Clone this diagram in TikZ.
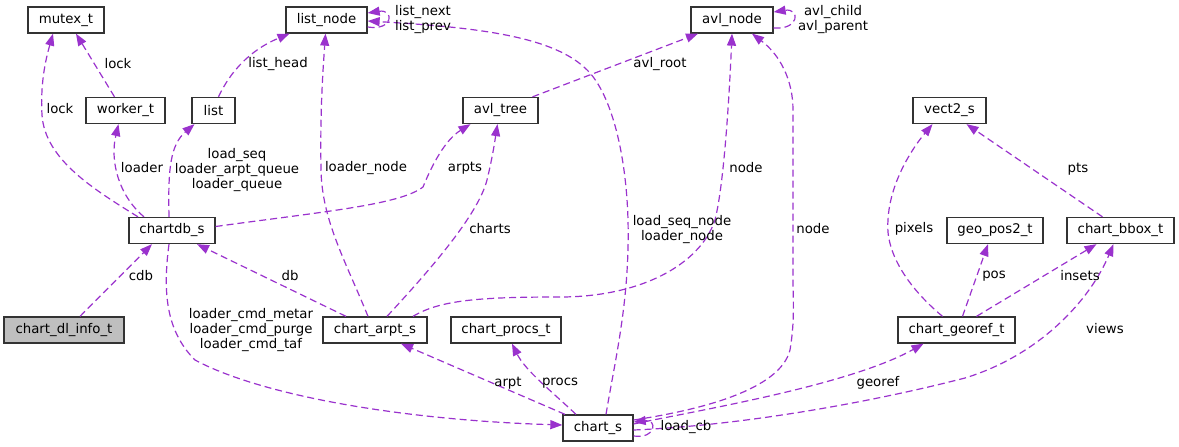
\documentclass[tikz,border=0pt]{standalone}
\usepackage{fontspec}
\setmainfont{DejaVu Sans}
\usetikzlibrary{arrows.meta}
\definecolor{edgec}{HTML}{9A32CD}
\definecolor{boxc}{HTML}{333333}
\definecolor{grayfill}{HTML}{BFBFBF}
\begin{document}
\begin{tikzpicture}[x=1pt,y=-1pt,
  every node/.style={font=\fontsize{13.3}{15}\selectfont},
  cls/.style={draw=boxc, line width=1.3pt, fill=white, minimum height=26pt, inner sep=0pt, anchor=center},
  rel/.style={draw=edgec, line width=1.2pt, dash pattern=on 7pt off 4pt, -{Triangle[length=12pt,width=9pt]}},
  lbl/.style={inner sep=0pt, align=center, text=black}]
\useasboundingbox (0,0) rectangle (1179,447);
% classes
\node[cls, minimum width=76pt] (mutex) at (66,20) {mutex\_t};
\node[cls, minimum width=81pt] (listnode) at (326.5,20) {list\_node};
\node[cls, minimum width=82pt] (avlnode) at (732,20) {avl\_node};
\node[cls, minimum width=79pt] (worker) at (125.5,110.5) {worker\_t};
\node[cls, minimum width=43pt] (list) at (213.5,110.5) {list};
\node[cls, minimum width=75pt] (avltree) at (500.5,110.5) {avl\_tree};
\node[cls, minimum width=73pt] (vect) at (949.5,110.5) {vect2\_s};
\node[cls, minimum width=86pt] (chartdb) at (172,230.5) {chartdb\_s};
\node[cls, minimum width=96pt] (geopos) at (995,230.5) {geo\_pos2\_t};
\node[cls, minimum width=107pt] (bbox) at (1120.5,230.5) {chart\_bbox\_t};
\node[cls, minimum width=120pt, fill=grayfill] (dlinfo) at (64,330) {chart\_dl\_info\_t};
\node[cls, minimum width=104pt] (arpt) at (375,330) {chart\_arpt\_s};
\node[cls, minimum width=110pt] (procs) at (506,330) {chart\_procs\_t};
\node[cls, minimum width=117pt] (georef) at (956.5,330) {chart\_georef\_t};
\node[cls, minimum width=70pt] (charts) at (598,428) {chart\_s};
% relations
\draw[rel] ([xshift=-34pt]chartdb.north) .. controls (95,190) and (45,160) .. (42,115) .. controls (40,80) and (47,55) .. ([xshift=-13pt]mutex.south);
\draw[rel] ([xshift=-28pt]chartdb.north) .. controls (118,195) and (110,160) .. ([xshift=-7pt]worker.south);
\draw[rel] ([xshift=-11pt]worker.north) -- ([xshift=10pt]mutex.south);
\draw[rel] ([xshift=-3pt]chartdb.north) .. controls (168,170) and (170,145) .. ([xshift=-19pt]list.south);
\draw[rel] ([xshift=5pt]list.north) .. controls (230,72) and (250,50) .. ([xshift=-37pt]listnode.south);
\draw[rel] ([yshift=-7pt]listnode.east) .. controls (394,31) and (394,9) .. ([yshift=7pt]listnode.east);
\draw[rel] ([xshift=8pt]charts.north) .. controls (615,360) and (630,300) .. (628,220) .. controls (626,150) and (610,90) .. (585,68) .. controls (550,35) and (470,27) .. ([yshift=-1pt]listnode.east);
\draw[rel] ([xshift=-7pt]arpt.north) .. controls (345,260) and (322,220) .. (321,170) .. controls (320,110) and (323,70) .. ([xshift=-1pt]listnode.south);
\draw[rel] ([yshift=4pt]chartdb.east) .. controls (320,212) and (400,205) .. (423,187) .. controls (432,165) and (445,140) .. ([xshift=-30pt]avltree.south);
\draw[rel] ([xshift=12pt]arpt.north) .. controls (430,270) and (478,215) .. (487,180) .. controls (493,155) and (495,140) .. ([xshift=-3pt]avltree.south);
\draw[rel] ([xshift=32pt]avltree.north) -- ([xshift=-34pt]avlnode.south);
\draw[rel] ([yshift=-8pt]avlnode.east) .. controls (800,30) and (800,8) .. ([yshift=8pt]avlnode.east);
\draw[rel] ([xshift=38pt]arpt.north) .. controls (440,300) and (480,297) .. (560,297) .. controls (640,297) and (700,265) .. (715,220) .. controls (725,180) and (730,80) .. (avlnode.south);
\draw[rel] ([yshift=8pt]charts.east) .. controls (700,410) and (780,390) .. (790,350) .. controls (795,320) and (793,300) .. (793,280) -- (793,110) .. controls (793,80) and (780,55) .. ([xshift=20pt]avlnode.south);
\draw[rel] ([xshift=-3pt]chartdb.south) .. controls (163,290) and (165,330) .. (195,360) .. controls (260,395) and (400,420) .. ([yshift=3pt]charts.west);
\draw[rel] ([xshift=-29pt]arpt.north) -- ([xshift=25pt]chartdb.south);
\draw[rel] ([xshift=16pt]dlinfo.north) -- ([xshift=-20pt]chartdb.south);
\draw[rel] ([xshift=-33pt]charts.north) -- ([xshift=26pt]arpt.south);
\draw[rel] ([xshift=-22pt]charts.north) .. controls (550,390) and (525,370) .. ([xshift=6pt]procs.south);
\draw[rel] ([yshift=-8pt]charts.east) .. controls (657,439) and (657,419) .. ([yshift=6pt]charts.east);
\draw[rel] ([yshift=4pt]charts.east) .. controls (700,410) and (850,385) .. ([xshift=-33pt]georef.south);
\draw[rel] ([yshift=-2pt]charts.east) .. controls (750,425) and (880,400) .. (965,378) .. controls (1040,355) and (1090,300) .. ([xshift=-7pt]bbox.south);
\draw[rel] ([xshift=-14pt]georef.north) .. controls (905,285) and (885,250) .. (888,220) .. controls (890,180) and (915,145) .. ([xshift=-17pt]vect.south);
\draw[rel] ([xshift=6pt]georef.north) -- ([xshift=-7pt]geopos.south);
\draw[rel] ([xshift=20pt]georef.north) -- ([xshift=-24pt]bbox.south);
\draw[rel] ([xshift=-18pt]bbox.north) -- ([xshift=17pt]vect.south);
% labels
\node[lbl] (l1) at (60,109) {lock};
\node[lbl] (l2) at (118,64) {lock};
\node[lbl] (l3) at (142,168) {loader};
\node[lbl] (l4) at (278,64) {list\_head};
\node[lbl] (l5) at (237,170) {load\_seq\\loader\_arpt\_queue\\loader\_queue};
\node[lbl] (l6) at (366,168) {loader\_node};
\node[lbl] (l7) at (423,20) {list\_next\\list\_prev};
\node[lbl] (l8) at (660,64) {avl\_root};
\node[lbl] (l9) at (465,168) {arpts};
\node[lbl] (l10) at (833,20) {avl\_child\\avl\_parent};
\node[lbl] (l11) at (746,168) {node};
\node[lbl] (l12) at (490,229) {charts};
\node[lbl] (l13) at (682,230) {load\_seq\_node\\loader\_node};
\node[lbl] (l14) at (813,229) {node};
\node[lbl] (l15) at (914,229) {pixels};
\node[lbl] (l16) at (994,276) {pos};
\node[lbl] (l17) at (1080,276) {insets};
\node[lbl] (l18) at (1078,169) {pts};
\node[lbl] (l19) at (1105,329) {views};
\node[lbl] (l20) at (878,383) {georef};
\node[lbl] (l21) at (141,276) {cdb};
\node[lbl] (l22) at (290,276) {db};
\node[lbl] (l23) at (251,330) {loader\_cmd\_metar\\loader\_cmd\_purge\\loader\_cmd\_taf};
\node[lbl] (l24) at (508,383) {arpt};
\node[lbl] (l25) at (560,383) {procs};
\node[lbl] (l26) at (686,427) {load\_cb};
\end{tikzpicture}
\end{document}
